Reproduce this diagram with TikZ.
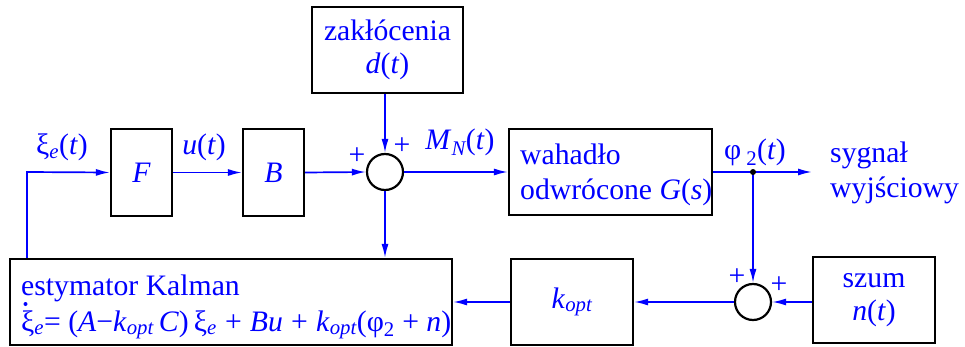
\documentclass[tikz,border=0pt]{standalone}
\usepackage{fontspec}
\setmainfont{Liberation Serif}
\newfontfamily\tms{Liberation Serif}
\usetikzlibrary{arrows.meta}
\definecolor{sigblue}{RGB}{0,0,255}
\newcommand\sbi[1]{\textsubscript{\itshape #1}}
\newcommand\sbr[1]{\textsubscript{#1}}
\begin{document}
\begin{tikzpicture}[x=1pt,y=-1pt,
  font=\tms\fontsize{29.7}{33}\selectfont,
  blk/.style={draw=black,line width=2.2pt,inner sep=0pt,text=sigblue},
  sumc/.style={draw=black,line width=2.2pt,circle,minimum size=36pt,inner sep=0pt},
  sig/.style={draw=sigblue,line width=1.7pt},
  arr/.style={sig,-{Latex[length=14pt,width=7pt]}},
  lbl/.style={text=sigblue,inner sep=0pt,anchor=base},
  pls/.style={text=sigblue,inner sep=0pt}]
\useasboundingbox (0,0) rectangle (965,347);
% blocks
\node[blk,minimum width=151pt,minimum height=86pt,align=center] (zak) at (387.5,50) {zakłócenia\\\textit{d}(\textit{t})};
\node[blk,minimum width=61pt,minimum height=87pt] (F) at (141.5,172.5) {\textit{F}};
\node[blk,minimum width=61pt,minimum height=87pt] (B) at (273.5,172.5) {\textit{B}};
\node[blk,minimum width=203pt,minimum height=86pt] (G) at (610.5,172) {};
\node[blk,minimum width=442pt,minimum height=86pt] (est) at (231,302) {};
\node[blk,minimum width=122pt,minimum height=86pt] (K) at (572,302) {\textit{k}\sbi{opt}};
\node[blk,minimum width=122pt,minimum height=86pt,align=center] (szum) at (874,300) {szum\\\textit{n}(\textit{t})};
\node[sumc] (s1) at (385,172) {};
\node[sumc] (s2) at (753,302) {};
% texts inside
\node[lbl,anchor=base west] (g1) at (520,165) {wahadło};
\node[lbl,anchor=base west] (g2) at (520,200) {odwrócone \textit{G}(\textit{s})};
\node[lbl,anchor=base west] (e1) at (21,295) {estymator Kalman};
\node[lbl,anchor=base west] (e2) at (21,331) {ξ\sbi{e}= (\textit{A}−\textit{k}\sbi{opt}\,\textit{C})\,ξ\sbi{e}\;+\;\textit{Bu}\;+\;\textit{k}\sbi{opt}(φ\sbr{2} + \textit{n})};
\fill[sigblue] ([xshift=4.5pt,yshift=27pt]e2.base west) circle (2pt);
\node[lbl,anchor=base west] (o1) at (830,163) {sygnał};
\node[lbl,anchor=base west] (o2) at (830,198) {wyjściowy};
% signal labels
\node[lbl] (lxi) at (62,155) {ξ\sbi{e}(\textit{t})};
\node[lbl] (lu) at (204,155) {\textit{u}(\textit{t})};
\node[lbl] (lm) at (460,150) {\textit{M}\sbi{N}(\textit{t})};
\node[lbl] (lphi) at (755,160) {φ\,\sbr{2}(\textit{t})};
\node[pls] (p1) at (357,156) {+};
\node[pls] (p2) at (402,146) {+};
\node[pls] (p3) at (737,277) {+};
\node[pls] (p4) at (779,285) {+};
% connectors
\coordinate (fb) at (27,172);
\coordinate (out) at (812,172);
\coordinate (jn) at (753,172);
\draw[arr] (F.east) -- (B.west);
\draw[arr] (B.east) -- (s1.west);
\draw[arr] (zak.south -| s1) -- (s1.north);
\draw[arr] (s1.east) -- (G.west);
\draw[arr] (G.east) -- (out);
\draw[arr] (jn) -- (s2.north);
\fill[black] (jn) circle (3pt);
\draw[arr] (s1.south) -- (s1.south |- est.north);
\draw[arr] (szum.west |- s2) -- (s2.east);
\draw[arr] (s2.west) -- (s2 -| K.east);
\draw[arr] (K.west |- s2) -- (s2 -| est.east);
\draw[arr] (est.north -| fb) -- (fb) -- (F.west);
\end{tikzpicture}
\end{document}
